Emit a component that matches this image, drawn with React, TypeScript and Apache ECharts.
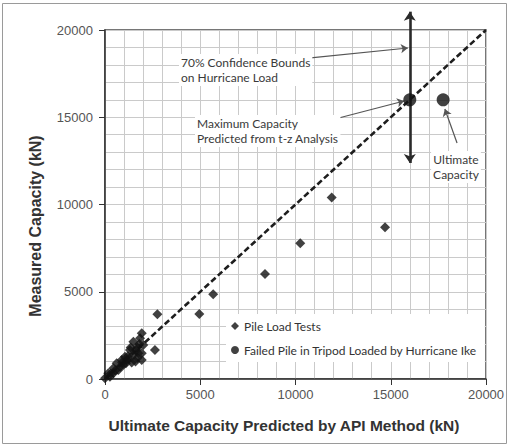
import React, { useEffect, useRef } from "react";
import * as echarts from "echarts";

// Pile load tests: ultimate capacity predicted by API method vs measured (kN)
const pileApi = [
  11900, 14700, 10250, 8400, 5680, 4950, 2750, 2620, 1930,
  1840, 1490, 2010, 1630, 1310, 1750, 1930, 1930, 1140, 1050, 880, 960, 700, 614,
  440, 440, 260, 170, 0, 1200, 1500, 1700, 1400, 1600, 800, 1100, 550, 300, 1350,
  1700, 1800, 900, 1250,
];
const pileMeasured = [
  10400, 8700, 7780, 6020, 4860, 3730, 3710, 1660, 2620,
  2330, 2140, 1950, 1660, 1660, 1470, 1470, 1090, 1090, 1280, 1090, 800, 520, 900,
  610, 330, 130, 330, 40, 1300, 1400, 1200, 950, 1000, 700, 900, 500, 300, 1800,
  1800, 2000, 950, 1150,
];

// Failed pile in tripod loaded by Hurricane Ike
const failedApi = [16000, 17750];
const failedMeasured = [16000, 16000];

// 70% confidence bounds on hurricane load (at the failed pile)
const boundsX = 16000;
const boundsY = [21050, 12380];

// 1:1 line
const oneToOneX = [0, 20000];
const oneToOneY = [0, 20000];

const axisMin = 0;
const axisMax = 20000;
const axisInterval = 5000;

const xTitle = "Ultimate Capacity Predicted by API Method (kN)";
const yTitle = "Measured Capacity (kN)";
const legendNames = ["Pile Load Tests", "Failed Pile in Tripod Loaded by Hurricane Ike"];

// annotation pointer arrows: [fromX, fromY, toX, toY] in data units
const pointerFrom = [
  [10800, 18400],
  [10650, 14500],
  [18480, 13520],
];
const pointerTo = [
  [15900, 18970],
  [15700, 15930],
  [17840, 15470],
];

export default function App() {
  const ref = useRef<HTMLDivElement>(null);

  useEffect(() => {
    if (!ref.current) return;
    const chart = echarts.init(ref.current, undefined, { renderer: "svg" });
    const gridColor = "#cacaca";
    const axisCommon = {
      type: "value" as const,
      min: axisMin,
      max: axisMax,
      interval: axisInterval,
      axisLine: { show: true, onZero: false, lineStyle: { color: "#333", width: 1.5 } },
      axisTick: { show: true, length: 6, lineStyle: { color: "#333", width: 1 } },
      splitLine: { show: true, lineStyle: { color: gridColor, width: 1 } },
      minorTick: { show: false, splitNumber: 5 },
      minorSplitLine: { show: true, lineStyle: { color: gridColor, width: 1 } },
    };
    const labelStyle = {
      color: "#555",
      fontSize: 13,
      fontFamily: "Liberation Sans",
      formatter: (v: number) => String(v),
    };
    const annFont = {
      fontFamily: "Lato",
      fontSize: 12,
      fill: "#3a3a3a",
      backgroundColor: "#ffffff",
      padding: [1, 2, 1, 2],
    };

    chart.setOption({
      animation: false,
      backgroundColor: "#ffffff",
      grid: {
        left: 105,
        right: 22,
        top: 30,
        bottom: 67,
        show: true,
        borderColor: "#4a4a4a",
        borderWidth: 1.5,
      },
      xAxis: { ...axisCommon, axisLabel: { ...labelStyle, margin: 9 } },
      yAxis: { ...axisCommon, axisLabel: { ...labelStyle, margin: 12 } },
      legend: {
        orient: "vertical",
        left: 226,
        top: 314,
        backgroundColor: "#ffffff",
        padding: [5, 8, 5, 5],
        itemGap: 10,
        itemWidth: 8,
        itemHeight: 8,
        selectedMode: false,
        textStyle: { fontFamily: "Lato", fontSize: 12, color: "#333", lineHeight: 14 },
        data: [
          { name: legendNames[0], icon: "diamond" },
          { name: legendNames[1], icon: "circle" },
        ],
      },
      series: [
        {
          type: "line",
          name: "1:1",
          data: oneToOneX.map((x, i) => [x, oneToOneY[i]]),
          showSymbol: false,
          symbol: "none",
          silent: true,
          lineStyle: { color: "#1e1e1e", width: 2.6, type: [6, 3] },
          z: 2,
        },
        {
          type: "scatter",
          name: legendNames[0],
          data: pileApi.map((x, i) => [x, pileMeasured[i]]),
          symbol: "diamond",
          symbolSize: 10,
          itemStyle: { color: "#111" },
          z: 3,
        },
        {
          type: "lines",
          name: "bounds",
          coordinateSystem: "cartesian2d",
          clip: false,
          silent: true,
          data: [{ coords: [[boundsX, boundsY[0]], [boundsX, boundsY[1]]] }],
          symbol: ["arrow", "arrow"],
          symbolSize: 9,
          lineStyle: { color: "#2a2a2a", width: 2.6, opacity: 1 },
          z: 4,
        },
        {
          type: "scatter",
          name: legendNames[1],
          data: failedApi.map((x, i) => [x, failedMeasured[i]]),
          symbol: "circle",
          symbolSize: 13,
          itemStyle: { color: "#111" },
          z: 5,
        },
        {
          type: "lines",
          name: "pointers",
          coordinateSystem: "cartesian2d",
          clip: false,
          silent: true,
          data: pointerFrom.map((f, i) => ({ coords: [f, pointerTo[i]] })),
          symbol: ["none", "arrow"],
          symbolSize: 7,
          lineStyle: { color: "#555", width: 1.2, opacity: 1 },
          z: 4,
        },
      ],
      graphic: [
        {
          type: "rect",
          shape: { x: 2.5, y: 3.5, width: 504, height: 440 },
          style: { fill: "none", stroke: "#9a9a9a", lineWidth: 1 },
          silent: true,
        },
        {
          type: "text",
          x: 284,
          y: 425,
          style: {
            text: xTitle,
            fontFamily: "Liberation Sans",
            fontWeight: "bold",
            fontSize: 15.5,
            fill: "#333",
            textAlign: "center",
            textVerticalAlign: "middle",
          },
        },
        {
          type: "text",
          x: 35,
          y: 226,
          rotation: Math.PI / 2,
          style: {
            text: yTitle,
            fontFamily: "Liberation Sans",
            fontWeight: "bold",
            fontSize: 16,
            fill: "#333",
            textAlign: "center",
            textVerticalAlign: "middle",
          },
        },
        {
          type: "text",
          x: 179,
          y: 54,
          z: 10,
          style: { ...annFont, text: "70% Confidence Bounds\non Hurricane Load", lineHeight: 15 },
        },
        {
          type: "text",
          x: 195,
          y: 115,
          z: 10,
          style: { ...annFont, text: "Maximum Capacity\nPredicted from t-z Analysis", lineHeight: 15 },
        },
        {
          type: "text",
          x: 456,
          y: 151,
          z: 10,
          style: { ...annFont, text: "Ultimate\nCapacity", lineHeight: 15, textAlign: "center" },
        },
      ],
    });
    return () => chart.dispose();
  }, []);

  return (
    <div
      ref={ref}
      style={{ position: "absolute", left: 0, top: 0, width: 508, height: 446 }}
    />
  );
}
